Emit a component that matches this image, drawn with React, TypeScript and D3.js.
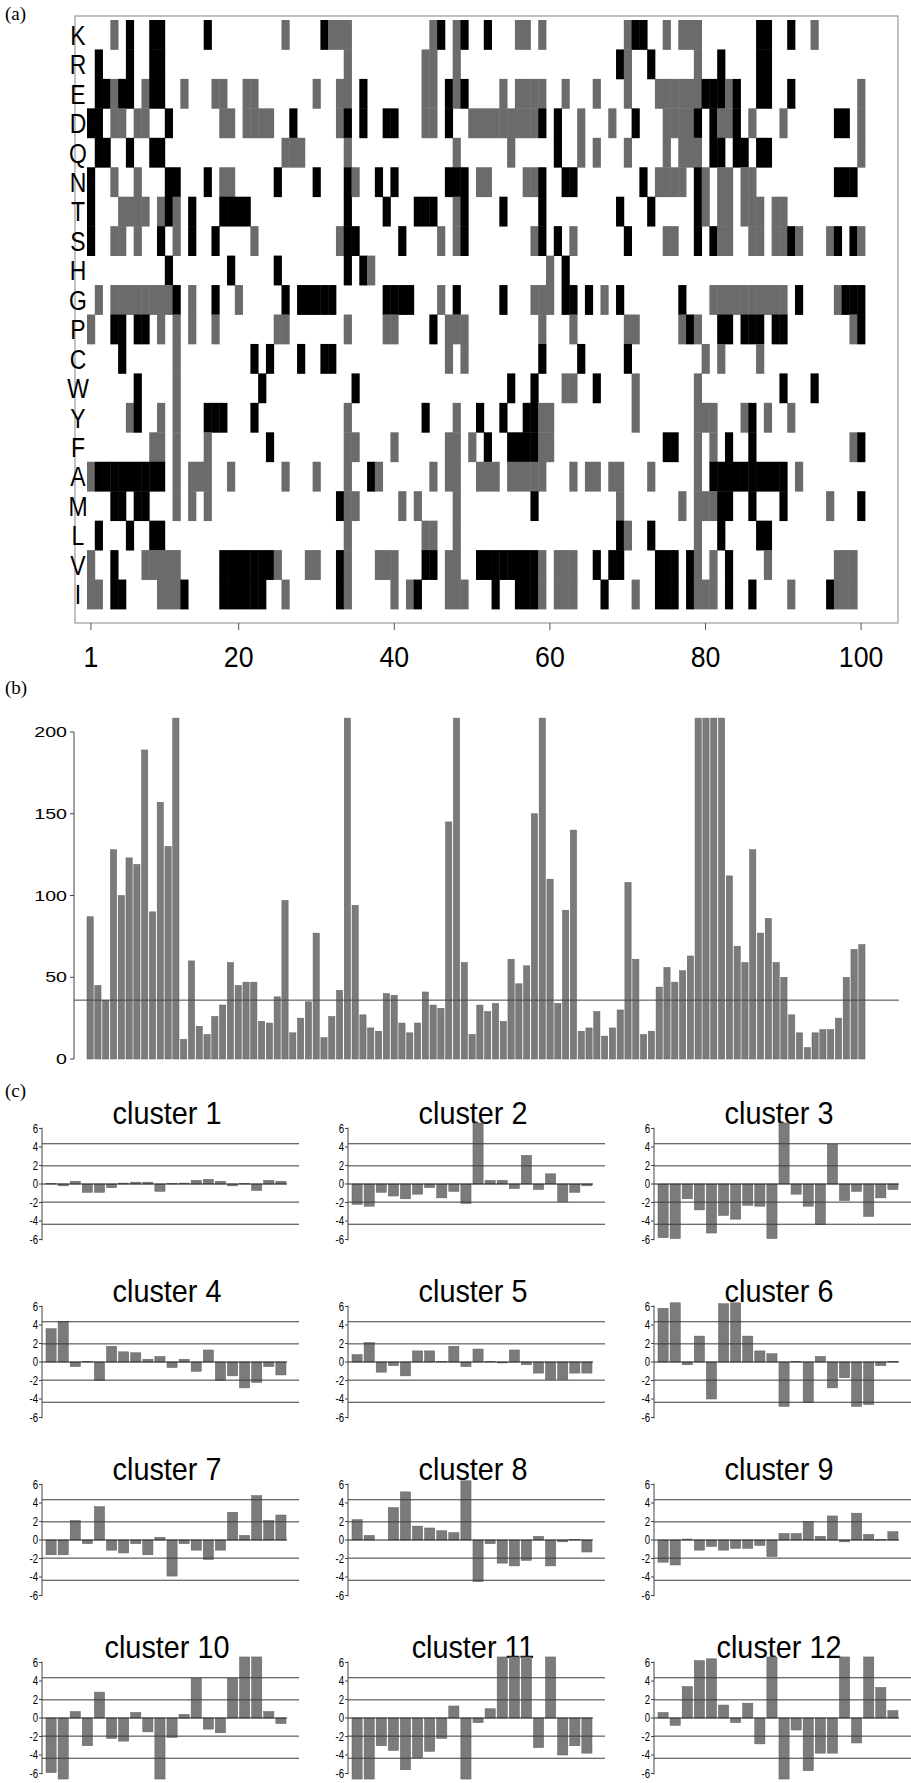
import React from "react";
import * as d3 from "d3";

// panel (a): residue rows, 100 alignment positions
const aminoAcids = ["K", "R", "E", "D", "Q", "N", "T", "S", "H", "G", "P", "C", "W", "Y", "F", "A", "M", "L", "V", "I"];
// '.' = white, 'g' = gray, 'b' = black; ten blocks of ten positions
const cellRows = [
  "...g.b..bb .....b.... .....g.... bggg...... ....gb.gb. .b...gg.g. .........g bb..g.ggg. ......bb.. b..g......",
  ".b...b..bb .......... .......... ...g...... ...gg..g.. .......... ........bg ..b.....g. .b....bb.. ..........",
  ".bbgbb.gbb ..g...gg.. gg.......g ..gg.b.... ...gg.bgb. ...g.gggg. .g...g...g ...ggggggb bbgb..bb.. b........g",
  "bb.gg.gg.. b......gg. gggg..b... ..gb.b..bb ...gg.b..g ggggggggb. b..g...g.. b...ggggb. bggb.g...g ......bb.g",
  ".bb..b..bb .......... .....ggg.. ...g...... .......g.. ....g..... b..g.g...g ....g.ggg. bb.bb.bb.. .........g",
  "b..g..g... bb...b.gg. ....b....b ...bg..b.b ......bbb. gg....ggb. .bb....... .b.gggg.bg .gg.gg.... ......bbb.",
  "b...gggg.g bg.b...bbb b......... ...b....b. ..bbb..gb. ...b....b. ........b. ..b.....bg .gg.ggg.gg ..........",
  "b..gg.g..b .g.b..b... .g........ ..gbb..... b....g.gb. .......gb. b.g......b ....gg..b. bgg..gg.gg bg...gb.bg",
  ".......... b.......b. ....b..... ...b.bg... .......... .........g .b........ .......... .......... ..........",
  ".g.ggggggg gb.g..b..g .....b.bbb bb......bb bb...g.b.. ...b...ggg .bb.b.g.b. ......b... gggggggggg .b....gbbb",
  "g..bb.bb.g .g.g..g... ....gg.... ...g....gg ....b.ggg. ........g. ..g......g g.....gbg. .bb.bbb.bb ........gb",
  "....b..... .g........ .b.b...b.. bb........ ......g.g. ........b. ...b.....b .........g .g....g... ..........",
  "......b... .g........ ..b....... ....b..... .......... ....b..b.. .gg..b.... g.......g. .........b ...b......",
  ".....gb..g .g...bbb.. .b........ ...g...... ...b...g.. b..b..bbgg .......... g.......gg g...gb.g.. g.........",
  "........gg .g...g.... ...b...... ...gg....g ......gg.g .b..bbbbgg .......... ....bb..g. g.b..b.... ........gb",
  "gbbbbbbbbb .g.ggg..g. .....g...g ...g..bg.. ....g.gg.. ggg.ggggg. ..g.gg.gg. ..g.....g. bbbbbbbbbb .g........",
  "...bb.bb.. .g.g.g.... .......... ..bgg..... g.g....g.. .......b.. ........g. ......g.gg gbb..b...b .....g...b",
  ".b...b..bb .......... .......... ...g...... ...gg..g.. .......... ........bg ..b.....g. .b....bb.. ..........",
  "g..b...ggg gg.....bbb bbbbg...gg ..bg...ggg ...bb.gg.. bbbbbbbbg. ggg..b.bb. ...bbb.bg. g.b....g.. ......ggg.",
  "gg.bb....g ggb....bbb bbb..g.... ..bg.....g .gb...ggg. ..b..bbbg. ggg...b... g..bbb.bgg g.b..b.... g....bggg.",
];
const positionTicks = [1, 20, 40, 60, 80, 100];

// panel (b): one value per position
const positionScores = [
  87, 45, 36, 128, 100, 123, 119, 189, 90, 157,
  130, 210, 12, 60, 20, 15, 26, 33, 59, 45,
  47, 47, 23, 22, 38, 97, 16, 25, 35, 77,
  13, 26, 42, 210, 94, 27, 19, 17, 40, 39,
  22, 16, 22, 41, 33, 31, 145, 210, 59, 15,
  33, 29, 34, 23, 61, 46, 57, 150, 210, 110,
  34, 91, 140, 17, 19, 29, 14, 19, 30, 108,
  61, 15, 17, 44, 56, 47, 54, 63, 210, 210,
  210, 210, 112, 69, 59, 128, 77, 86, 59, 50,
  27, 16, 7, 16, 18, 18, 25, 50, 67, 70,
];
const scoreTicks = [0, 50, 100, 150, 200];
const scoreThreshold = 36;

// panel (c): 20 values per cluster
const cluster1 = [0.05, -0.2, 0.3, -0.9, -0.9, -0.4, 0.1, 0.2, 0.2, -0.8, 0.05, 0.1, 0.4, 0.5, 0.3, -0.2, 0.05, -0.7, 0.4, 0.3];
const cluster2 = [-2.2, -2.4, -0.9, -1.3, -1.6, -1.1, -0.4, -1.5, -0.8, -2.1, 6.6, 0.4, 0.4, -0.5, 3.1, -0.6, 1.1, -1.9, -0.9, -0.2];
const cluster3 = [-5.8, -5.9, -1.6, -2.8, -5.3, -3.4, -3.8, -2.3, -2.4, -5.9, 6.6, -1.1, -2.4, -4.4, 4.3, -1.8, -0.8, -3.5, -1.5, -0.6];
const cluster4 = [3.6, 4.4, -0.5, 0.05, -2.0, 1.7, 1.1, 1.0, 0.3, 0.6, -0.6, 0.3, -1.0, 1.3, -2.0, -1.5, -2.8, -2.2, -0.5, -1.4];
const cluster5 = [0.8, 2.1, -1.1, -0.4, -1.5, 1.2, 1.2, 0.05, 1.7, -0.5, 1.4, 0.05, -0.1, 1.3, -0.3, -1.2, -1.9, -1.9, -1.2, -1.2];
const cluster6 = [5.8, 6.4, -0.3, 2.8, -4.0, 6.3, 6.4, 2.8, 1.2, 0.9, -4.8, 0.05, -4.4, 0.6, -2.8, -1.7, -4.8, -4.6, -0.4, 0.05];
const cluster7 = [-1.6, -1.6, 2.1, -0.4, 3.6, -1.1, -1.4, -0.4, -1.6, 0.3, -3.9, -0.4, -1.1, -2.1, -1.1, 3.0, 0.5, 4.8, 2.1, 2.7];
const cluster8 = [2.2, 0.5, 0.0, 3.5, 5.2, 1.5, 1.3, 1.0, 0.8, 6.4, -4.5, -0.4, -2.5, -2.8, -2.2, 0.4, -2.8, -0.2, 0.05, -1.3];
const cluster9 = [-2.4, -2.7, 0.1, -1.1, -0.7, -1.1, -0.9, -0.9, -0.6, -1.8, 0.7, 0.7, 2.0, 0.4, 2.6, -0.2, 2.9, 0.6, 0.05, 0.9];
const cluster10 = [-5.9, -6.6, 0.7, -3.0, 2.8, -2.2, -2.5, 0.6, -1.5, -6.6, -2.1, 0.4, 4.3, -1.2, -1.6, 4.3, 6.6, 6.6, 0.7, -0.6];
const cluster11 = [-6.6, -6.6, -3.0, -3.5, -5.6, -4.3, -3.6, -2.2, 1.3, -6.6, -0.5, 1.0, 6.6, 6.6, 6.6, -3.2, 6.6, -4.0, -3.0, -3.8];
const cluster12 = [0.6, -0.8, 3.4, 6.2, 6.4, 1.4, -0.5, 1.6, -2.8, 6.6, -6.6, -1.3, -5.7, -3.8, -3.8, 6.6, -2.7, 6.6, 3.3, 0.8];
const clusterNames = ["cluster 1", "cluster 2", "cluster 3", "cluster 4", "cluster 5", "cluster 6",
  "cluster 7", "cluster 8", "cluster 9", "cluster 10", "cluster 11", "cluster 12"];
const clusterTicks = [6, 4, 2, 0, -2, -4, -6];
const clusterGuides = [4.35, 1.96, -1.96, -4.35];

const SANS = "'Liberation Sans', Arial, sans-serif";
const SERIF = "'Liberation Serif', 'Times New Roman', serif";
const BAR = "#7b7b7b";

const positions = d3.range(1, 101);

function Heatmap() {
  const x = d3.scaleBand<number>().domain(positions).range([87, 865]);
  const y = d3.scaleBand<string>().domain(aminoAcids).range([20, 609]);
  const bw = x.bandwidth();
  const cells: React.ReactNode[] = [];
  cellRows.forEach((row, r) => {
    row.replace(/ /g, "").split("").forEach((c, i) => {
      if (c === ".") return;
      cells.push(
        <rect key={`${r}-${i}`} x={x(i + 1)!} y={y(aminoAcids[r])!} width={bw + 0.4}
          height={y.bandwidth() + 0.4} fill={c === "b" ? "#000" : "#6b6b6b"} />
      );
    });
  });
  return (
    <g>
      <text x={5} y={20} fontFamily={SERIF} fontSize={19}>(a)</text>
      <rect x={75} y={16} width={823} height={607} fill="none" stroke="#999" strokeWidth={1.2} />
      {cells}
      {aminoAcids.map((a) => (
        <text key={a} transform={`translate(78,${y(a)! + y.bandwidth() / 2 + 10}) scale(0.85,1)`}
          textAnchor="middle" fontFamily={SANS} fontSize={27}>{a}</text>
      ))}
      {positionTicks.map((t) => (
        <g key={t} transform={`translate(${x(t)! + bw / 2},623)`}>
          <line y2={7} stroke="#555" />
          <text transform="translate(0,44) scale(0.92,1)" textAnchor="middle" fontFamily={SANS} fontSize={29}>{t}</text>
        </g>
      ))}
    </g>
  );
}

function ScorePanel() {
  const x = d3.scaleBand<number>().domain(positions).range([87, 865]).paddingInner(0.2);
  const y = d3.scaleLinear().domain([0, 200]).range([1059, 732]);
  const top = 208.5;
  return (
    <g>
      <text x={5} y={694} fontFamily={SERIF} fontSize={19}>(b)</text>
      {positionScores.map((v, i) => (
        <rect key={i} x={x(i + 1)!} y={y(Math.min(v, top))} width={x.bandwidth()}
          height={y(0) - y(Math.min(v, top))} fill={BAR} stroke="#5e5e5e" strokeWidth={0.5} />
      ))}
      <line x1={74} x2={899} y1={y(scoreThreshold)} y2={y(scoreThreshold)} stroke="#444" strokeWidth={1} />
      <line x1={74} x2={74} y1={y(0)} y2={y(200)} stroke="#444" />
      {scoreTicks.map((t) => (
        <g key={t} transform={`translate(74,${y(t)})`}>
          <line x2={-4} stroke="#444" />
          <text transform="translate(-7,5) scale(1.4,1)" textAnchor="end" fontFamily={SANS} fontSize={14}>{t}</text>
        </g>
      ))}
    </g>
  );
}

const clusters = [cluster1, cluster2, cluster3, cluster4, cluster5, cluster6,
  cluster7, cluster8, cluster9, cluster10, cluster11, cluster12];

function ClusterChart({ values, name, idx }: { values: number[]; name: string; idx: number }) {
  const ax = [42, 348, 654][idx % 3];
  const zero = 1184 + Math.floor(idx / 3) * 178;
  const y = d3.scaleLinear().domain([-6, 6]).range([zero + 55.5, zero - 55.5]);
  const x = d3.scaleBand<number>().domain(d3.range(values.length)).range([ax + 4, ax + 244]).paddingInner(0.16);
  const lim = 6.6;
  return (
    <g>
      <text transform={`translate(${ax + 125},${zero - 60}) scale(0.9,1)`} textAnchor="middle"
        fontFamily={SANS} fontSize={32}>{name}</text>
      {values.map((v, i) => {
        const c = Math.max(-lim, Math.min(lim, v));
        return (
          <rect key={i} x={x(i)!} y={Math.min(y(c), y(0))} width={x.bandwidth()}
            height={Math.abs(y(c) - y(0))} fill={BAR} stroke="#5e5e5e" strokeWidth={0.5} />
        );
      })}
      {clusterGuides.map((g) => (
        <line key={g} x1={ax} x2={ax + 257} y1={y(g)} y2={y(g)} stroke="#3a3a3a" strokeWidth={1} />
      ))}
      <line x1={ax} x2={ax + 245} y1={y(0)} y2={y(0)} stroke="#222" strokeWidth={1} />
      <line x1={ax} x2={ax} y1={y(6.1)} y2={y(-6.1)} stroke="#444" />
      {clusterTicks.map((t) => (
        <g key={t} transform={`translate(${ax},${y(t)})`}>
          <line x2={-3} stroke="#444" />
          <text transform="translate(-4,4) scale(0.8,1)" textAnchor="end" fontFamily={SANS} fontSize={12}>{t}</text>
        </g>
      ))}
    </g>
  );
}

export default function App() {
  return (
    <div style={{ position: "absolute", left: 0, top: 0 }}>
      <svg width={911} height={1783} style={{ display: "block", background: "#fff" }}>
        <Heatmap />
        <ScorePanel />
        <text x={5} y={1097} fontFamily={SERIF} fontSize={19}>(c)</text>
        {clusters.map((v, i) => (
          <ClusterChart key={i} values={v} name={clusterNames[i]} idx={i} />
        ))}
      </svg>
    </div>
  );
}
